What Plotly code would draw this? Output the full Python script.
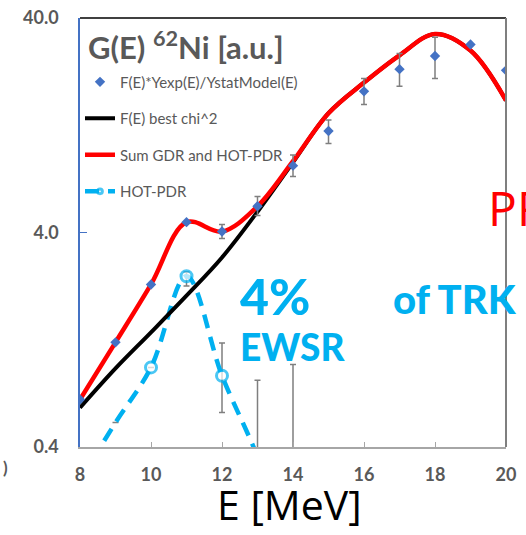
import plotly.graph_objects as go
import math

# ---- data ----
energy = [8, 9, 10, 11, 12, 13, 14, 15, 16, 17, 18, 19, 20]
data_vals = [0.666, 1.23, 2.29, 4.47, 4.04, 5.30, 8.2, 11.9, 18.2, 23.1, 26.6, 30.1, 22.8]
data_err_plus = [0, 0, 0, 0, 0.32, 0.59, 1.0, 1.5, 2.7, 4.2, 5.9, 0, 0]
data_err_minus = [0, 0, 0, 0, 0.29, 0.50, 0.9, 1.5, 2.4, 3.9, 5.7, 0, 0]

best_chi2 = [0.61, 0.93, 1.37, 2.03, 3.06, 5.0, 8.5, 14.4, 20.0, 26.8, 33.7, 28.2, 16.5]
sum_gdr_pdr = [0.666, 1.23, 2.29, 4.47, 4.04, 5.30, 8.6, 14.4, 20.0, 26.8, 33.7, 28.2, 16.5]

pdr_energy = [8, 9, 10, 11, 12, 13, 14]
pdr_vals = [0.28, 0.52, 0.94, 2.5, 0.86, 0.36, 0.12]
pdr_err_plus = [0, 0, 0, 0.12, 0.36, 0.46, 0.85]
pdr_err_minus = [0, 0, 0, 0.25, 0.28, 0.35, 0.115]
pdr_marker_size = [0, 0, 11, 11, 11, 0, 0]

y_tickvals = [0.4, 4, 40]
y_ticktext = ["0.4", "4.0", "40.0"]
x_tickvals = [8, 10, 12, 14, 16, 18, 20]

GRAY = "#595959"
CYAN = "#00B0F0"
FONT = "Lato, 'Open Sans', sans-serif"

fig = go.Figure()

fig.add_trace(go.Scatter(
    x=pdr_energy, y=pdr_vals, mode="lines+markers", name="HOT-PDR",
    line=dict(color=CYAN, width=4.5, dash="14px,9px", shape="spline"),
    marker=dict(symbol="circle", size=pdr_marker_size, color="white",
                line=dict(color=CYAN, width=3)),
    error_y=dict(type="data", symmetric=False, array=pdr_err_plus,
                 arrayminus=pdr_err_minus, color="#7F7F7F", thickness=1.5, width=3),
    legendrank=4, legendgroup="d",
))
fig.add_trace(go.Scatter(
    x=energy, y=best_chi2, mode="lines", name="F(E) best chi^2",
    line=dict(color="black", width=4, shape="spline"),
    legendrank=2, legendgroup="b",
))
fig.add_trace(go.Scatter(
    x=energy, y=sum_gdr_pdr, mode="lines", name="Sum GDR and HOT-PDR",
    line=dict(color="#FF0000", width=4.5, shape="spline"),
    legendrank=3, legendgroup="c",
))
fig.add_trace(go.Scatter(
    x=energy, y=data_vals, mode="markers", name="F(E)*Yexp(E)/YstatModel(E)",
    marker=dict(symbol="diamond", size=8, color="#4472C4"),
    error_y=dict(type="data", symmetric=False, array=data_err_plus,
                 arrayminus=data_err_minus, color="#7F7F7F", thickness=1.5, width=3),
    legendrank=1, legendgroup="a",
))

fig.update_layout(
    width=526, height=535,
    margin=dict(l=80, r=20, t=18, b=88, autoexpand=False),
    paper_bgcolor="white", plot_bgcolor="white",
    font=dict(family=FONT, color=GRAY),
    showlegend=True,
    legend=dict(x=0.0, y=0.889, xanchor="left", yanchor="top",
                bgcolor="rgba(0,0,0,0)", font=dict(size=15, color=GRAY),
                tracegroupgap=14, itemwidth=30),
    xaxis=dict(range=[8, 20], tickvals=x_tickvals, showgrid=False, zeroline=False,
               showline=True, linecolor="#A6A6A6", linewidth=1.5,
               ticks="inside", ticklen=5, tickcolor="#A6A6A6", ticklabelstandoff=11,
               tickfont=dict(size=18, color=GRAY, family=FONT, weight="bold")),
    yaxis=dict(type="log", range=[math.log10(0.4) - 1e-9, math.log10(40) + 1e-9],
               tickvals=y_tickvals, ticktext=y_ticktext, showgrid=False, zeroline=False,
               showline=True, linecolor="#4472C4", linewidth=1.5,
               ticks="inside", ticklen=7, tickcolor="#4472C4", ticklabelstandoff=16,
               tickfont=dict(size=18, color=GRAY, family=FONT, weight="bold")),
    shapes=[
        dict(type="line", xref="paper", yref="paper", x0=0, x1=1, y0=1, y1=1,
             line=dict(color="black", width=1.5), layer="above"),
        dict(type="line", xref="paper", yref="paper", x0=1, x1=1, y0=0, y1=1,
             line=dict(color="#7F7F7F", width=2), layer="above"),
    ],
    annotations=[
        dict(text="E [MeV]", xref="paper", yref="paper", x=0.492, y=-0.134,
             xanchor="center", yanchor="middle", showarrow=False,
             font=dict(size=41, color="black", family="'Open Sans', sans-serif")),
        dict(text="G(E) <sup>62</sup>Ni [a.u.]", xref="paper", yref="paper",
             x=0.014, y=0.937, xanchor="left", yanchor="middle", showarrow=False,
             font=dict(size=31, color=GRAY, family=FONT, weight="bold")),
        dict(text="4%", xref="paper", yref="paper", x=0.372, y=0.352,
             xanchor="left", yanchor="middle", showarrow=False,
             font=dict(size=50, color=CYAN, family=FONT, weight=900)),
        dict(text="EWSR", xref="paper", yref="paper", x=0.372, y=0.235,
             xanchor="left", yanchor="middle", showarrow=False,
             font=dict(size=37, color=CYAN, family=FONT, weight=900)),
        dict(text="of TRK", xref="paper", yref="paper", x=0.73, y=0.345,
             xanchor="left", yanchor="middle", showarrow=False,
             font=dict(size=40, color=CYAN, family=FONT, weight=900)),
        dict(text="PR", xref="paper", yref="paper", x=0.953, y=0.559,
             xanchor="left", yanchor="middle", showarrow=False,
             font=dict(size=48, color="#FF0000", family="'Open Sans', sans-serif")),
        dict(text=")", xref="paper", yref="paper", x=-0.176, y=-0.047,
             xanchor="center", yanchor="middle", showarrow=False,
             font=dict(size=17, color=GRAY, family=FONT, weight="bold")),
    ],
)

fig.write_html("out.html", config={"displayModeBar": False},
               post_script="document.body.style.margin='0';"
                           "document.documentElement.style.overflow='hidden';")
